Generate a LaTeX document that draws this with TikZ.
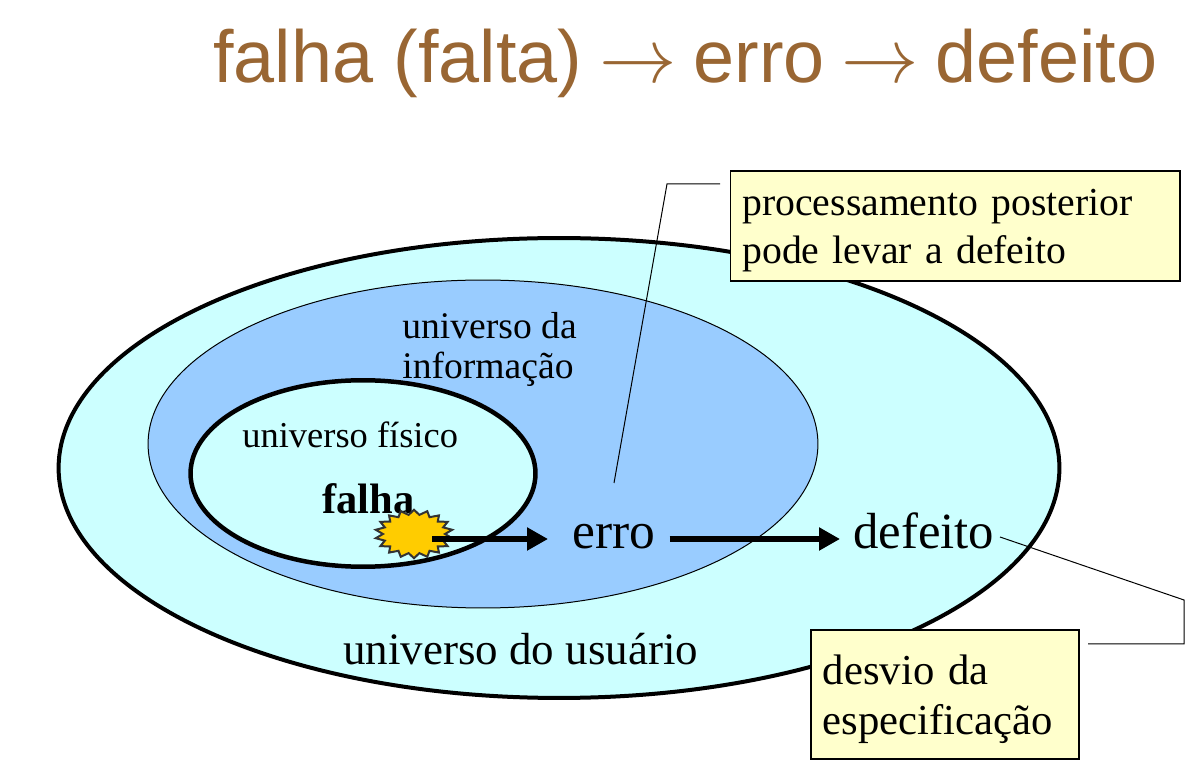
\documentclass[tikz,border=0pt]{standalone}
\usepackage{fontspec}
\setmainfont{Liberation Serif}
\newfontfamily\titlefont{Liberation Sans}
\definecolor{titlebrown}{RGB}{153, 102, 51}
\definecolor{usercyan}{RGB}{204, 255, 255}
\definecolor{infoblue}{RGB}{153, 204, 255}
\definecolor{noteyellow}{RGB}{255, 255, 204}
\definecolor{flawgold}{RGB}{255, 204, 0}
\usetikzlibrary{shapes.geometric, arrows.meta, positioning, calc}
\newcommand{\titlearrow}{\hspace*{-2.1pt}\scalebox{1.77}{$\rightarrow$}\hspace*{-2.1pt}}
\tikzset{
  universe/.style={ellipse, draw=black, inner sep=0pt},
  notebox/.style={draw=black, fill=noteyellow, line width=0.035cm, anchor=north west, inner xsep=0.24cm, inner ysep=0pt, align=left},
  leader/.style={draw=black, line width=0.02cm},
  heavyarrow/.style={line width=0.12cm, -{Triangle[length=0.42cm, width=0.44cm]}},
  label/.style={inner sep=0pt, anchor=base west}
}

\begin{document}
\begin{tikzpicture}[x=0.02cm, y=-0.02cm]
  \useasboundingbox (0, 0) rectangle (1204, 783);
  % Title
  \node[label, text=titlebrown, font=\titlefont\fontsize{42}{50}\selectfont] (title) at (213, 83) {falha (falta) \titlearrow{} erro \titlearrow{} defeito};
  % Nested universes
  \node[universe, fill=usercyan, line width=0.08cm, minimum width=20.02cm, minimum height=9.2cm] (usuario) at (559, 468) {};
  \node[universe, fill=infoblue, line width=0.02cm, minimum width=13.4cm, minimum height=6.56cm] (informacao) at (483, 444) {};
  \node[universe, fill=usercyan, line width=0.09cm, minimum width=6.9cm, minimum height=3.73cm] (fisico) at (363, 473.5) {};
  % Labels
  \node[label, font=\fontsize{21.4}{22.8}\selectfont, align=left, anchor=north west] (infolabel) at (402, 312) {universo da\\informação};
  \node[label, font=\fontsize{20.75}{24}\selectfont] (fisicolabel) at (242, 448) {universo físico};
  \node[label, font=\fontsize{24.2}{28}\selectfont\bfseries] (falha) at (322, 514) {falha};
  \node[label, font=\fontsize{29.3}{32}\selectfont] (erro) at (572, 549) {erro};
  \node[label, font=\fontsize{28.9}{32}\selectfont] (defeito) at (853, 549) {defeito};
  \node[label, font=\fontsize{25.6}{30}\selectfont] (usuariolabel) at (343, 664) {universo do usuário};
  % Flaw
  \node[star, star points=18, star point ratio=1.25, draw=black!80!white, fill=flawgold, line width=0.04cm, inner sep=0pt, minimum size=0.97cm, xscale=1.6, transform shape] (falhastar) at (414, 534) {};
  % Arrows
  \coordinate (falhaout) at (432, 539);
  \draw[heavyarrow, shorten >=0.48cm] (falhaout) -- (falhaout -| erro.west);
  \draw[heavyarrow, shorten <=0.28cm, shorten >=0.26cm] (falhaout -| erro.east) -- (falhaout -| defeito.west);
  % Notes
  \node[notebox, font=\fontsize{22.6}{27.3}\selectfont, minimum width=9cm, minimum height=2.2cm, text width=8.52cm] (notepost) at (729.5, 170) {processamento posterior\\pode levar a defeito\vspace*{-5pt}};
  \node[notebox, font=\fontsize{24.3}{28.4}\selectfont, minimum width=5.36cm, minimum height=2.58cm, text width=4.88cm] (notedesvio) at (810, 629) {desvio da\\especificação\vspace*{-5.5pt}};
  % Leaders
  \coordinate (posttip) at (614, 483);
  \coordinate (postbend) at (667, 184);
  \coordinate (poststart) at (720, 184);
  \draw[leader] (poststart) -- (postbend) -- (posttip);
  \coordinate (desviotip) at (1000, 537);
  \coordinate (desvioup) at (1184, 600);
  \coordinate (desviodown) at (1184, 644);
  \coordinate (desviostart) at (1088, 644);
  \draw[leader] (desviotip) -- (desvioup) -- (desviodown) -- (desviostart);
\end{tikzpicture}
\end{document}
